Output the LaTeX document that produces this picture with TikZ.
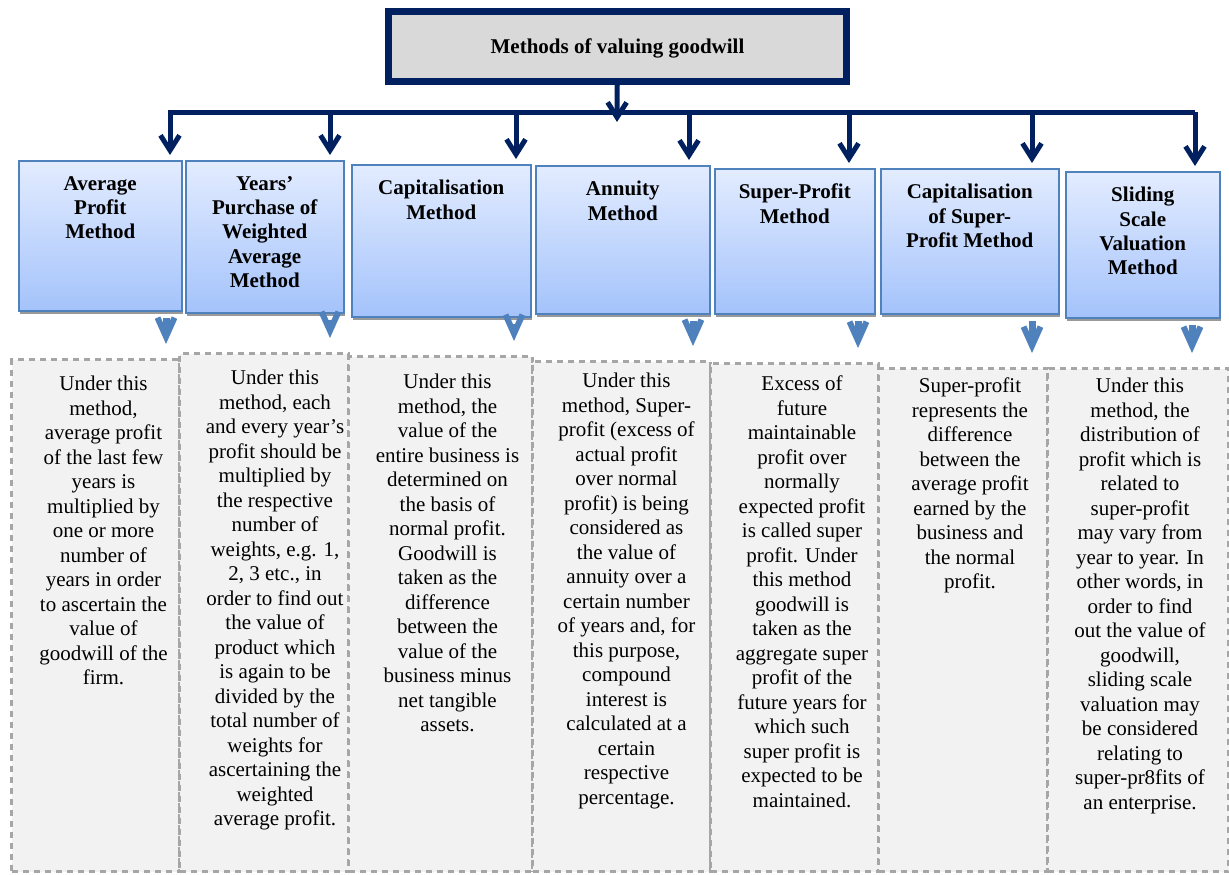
\documentclass[tikz,border=0pt]{standalone}
\usepackage{fontspec}
\setmainfont{Liberation Serif}
\usetikzlibrary{positioning,arrows.meta,shadows}
\definecolor{navy}{HTML}{002060}
\definecolor{arrowblue}{HTML}{4F81BD}
\definecolor{boxtop}{HTML}{E3ECFF}
\definecolor{boxbottom}{HTML}{A4C3FB}

\begin{document}
\begin{tikzpicture}
	[x=1pt,y=-1pt,
	every node/.style={inner sep=0pt},
	titlebox/.style={rectangle,draw=navy,fill=gray!30,line width=7pt,minimum width=458pt,minimum height=70pt,
		font=\bfseries\fontsize{21}{24.5}\selectfont,text depth=0pt,
		drop shadow={shadow xshift=1pt,shadow yshift=-4pt,fill=black!40,opacity=1}},
	methodbox/.style={rectangle,draw=arrowblue,line width=1.5pt,top color=boxtop,bottom color=boxbottom,anchor=north west,
		drop shadow={shadow xshift=1.5pt,shadow yshift=-3pt,fill=black!40,opacity=1}},
	head/.style={align=center,anchor=north,font=\bfseries\fontsize{21}{24.4}\selectfont},
	note/.style={rectangle,draw=gray!70,fill=gray!10,line width=3pt,dash pattern=on 6pt off 5pt,anchor=north west},
	body/.style={align=center,anchor=north,font=\fontsize{21}{24.5}\selectfont},
	darrow/.style={draw=navy,line width=5pt,shorten >=5pt,-{Straight Barb[length=15pt,width=19pt]}},
	barrow/.style={draw=arrowblue,line width=7pt,shorten <=6pt,shorten >=14pt,-{Straight Barb[length=19pt,width=17pt,line width=6pt]}}]
	\useasboundingbox (0,0) rectangle (1229,875);

	% dashed description panels
	\node[note,minimum width=168pt,minimum height=512pt] (d1) at (10,358) {};
	\node[note,minimum width=169pt,minimum height=518pt] (d2) at (178,352) {};
	\node[note,minimum width=184pt,minimum height=515pt] (d3) at (347,355) {};
	\node[note,minimum width=178pt,minimum height=510pt] (d4) at (531,360) {};
	\node[note,minimum width=168pt,minimum height=508pt] (d5) at (709,362) {};
	\node[note,minimum width=169pt,minimum height=503pt] (d6) at (877,367) {};
	\node[note,minimum width=181pt,minimum height=503pt] (d7) at (1046,367) {};

	\node[body] (t1) at (103.5,376) {Under this\\method,\\average profit\\of the last few\\years is\\multiplied by\\one or more\\number of\\years in order\\to ascertain the\\value of\\goodwill of the\\firm.};
	\node[body] (t2) at (275,370) {Under this\\method, each\\and every year’s\\profit should be\\multiplied by\\the respective\\number of\\weights, e.g. 1,\\2, 3 etc., in\\order to find out\\the value of\\product which\\is again to be\\divided by the\\total number of\\weights for\\ascertaining the\\weighted\\average profit.};
	\node[body] (t3) at (447.5,374) {Under this\\method, the\\value of the\\entire business is\\determined on\\the basis of\\normal profit.\\Goodwill is\\taken as the\\difference\\between the\\value of the\\business minus\\net tangible\\assets.};
	\node[body] (t4) at (626.5,373) {Under this\\method, Super-\\profit (excess of\\actual profit\\over normal\\profit) is being\\considered as\\the value of\\annuity over a\\certain number\\of years and, for\\this purpose,\\compound\\interest is\\calculated at a\\certain\\respective\\percentage.};
	\node[body] (t5) at (802,376) {Excess of\\future\\maintainable\\profit over\\normally\\expected profit\\is called super\\profit. Under\\this method\\goodwill is\\taken as the\\aggregate super\\profit of the\\future years for\\which such\\super profit is\\expected to be\\maintained.};
	\node[body] (t6) at (970,378) {Super-profit\\represents the\\difference\\between the\\average profit\\earned by the\\business and\\the normal\\profit.};
	\node[body] (t7) at (1140,378) {Under this\\method, the\\distribution of\\profit which is\\related to\\super-profit\\may vary from\\year to year. In\\other words, in\\order to find\\out the value of\\goodwill,\\sliding scale\\valuation may\\be considered\\relating to\\super-pr8fits of\\an enterprise.};

	% method boxes
	\node[methodbox,minimum width=163pt,minimum height=150pt] (m1) at (18,160) {};
	\node[methodbox,minimum width=158pt,minimum height=152pt] (m2) at (185,160) {};
	\node[methodbox,minimum width=179pt,minimum height=152pt] (m3) at (351,164) {};
	\node[methodbox,minimum width=174pt,minimum height=148pt] (m4) at (535,165) {};
	\node[methodbox,minimum width=160pt,minimum height=145pt] (m5) at (714,168) {};
	\node[methodbox,minimum width=178pt,minimum height=145pt] (m6) at (880,168) {};
	\node[methodbox,minimum width=154pt,minimum height=146pt] (m7) at (1065,171) {};

	\node[head,below=16pt of m1.north] (h1) {Average\\Profit\\Method};
	\node[head,below=16pt of m2.north] (h2) {Years’\\Purchase of\\Weighted\\Average\\Method};
	\node[head,below=16pt of m3.north] (h3) {Capitalisation\\Method};
	\node[head,below=16pt of m4.north] (h4) {Annuity\\Method};
	\node[head,below=16pt of m5.north] (h5) {Super-Profit\\Method};
	\node[head,below=16pt of m6.north] (h6) {Capitalisation\\of Super-\\Profit Method};
	\node[head,below=16pt of m7.north] (h7) {Sliding\\Scale\\Valuation\\Method};

	\node[titlebox] (title) at (617.5,46.5) {Methods of valuing goodwill};

	% branch points on the bar
	\coordinate (a1) at (170,112);
	\coordinate (a2) at (330,112);
	\coordinate (a3) at (516,112);
	\coordinate (a4) at (689,112);
	\coordinate (a5) at (849,112);
	\coordinate (a6) at (1032,112);
	\coordinate (a7) at (1195,112);
	\coordinate (hub) at (617,122);

	\draw[darrow,line join=miter] (a7) -- (a1) -- (a1 |- m1.north);
	\draw[darrow,shorten >=0pt] (title) -- (hub);
	\draw[darrow] (a2) -- (a2 |- m2.north);
	\draw[darrow] (a3) -- (a3 |- m3.north);
	\draw[darrow] (a4) -- (a4 |- m4.north);
	\draw[darrow] (a5) -- (a5 |- m5.north);
	\draw[darrow] (a6) -- (a6 |- m6.north);
	\draw[darrow] (a7) -- (a7 |- m7.north);

	\draw[barrow] (m1.south -| 166,0) -- (166,0 |- d1.north);
	\draw[barrow] (m2.south -| a2) -- (a2 |- d2.north);
	\draw[barrow] (m3.south -| 514,0) -- (514,0 |- d3.north);
	\draw[barrow] (m4.south -| 693,0) -- (693,0 |- d4.north);
	\draw[barrow] (m5.south -| 858,0) -- (858,0 |- d5.north);
	\draw[barrow] (m6.south -| a6) -- (a6 |- d6.north);
	\draw[barrow] (m7.south -| 1192,0) -- (1192,0 |- d7.north);
\end{tikzpicture}
\end{document}
